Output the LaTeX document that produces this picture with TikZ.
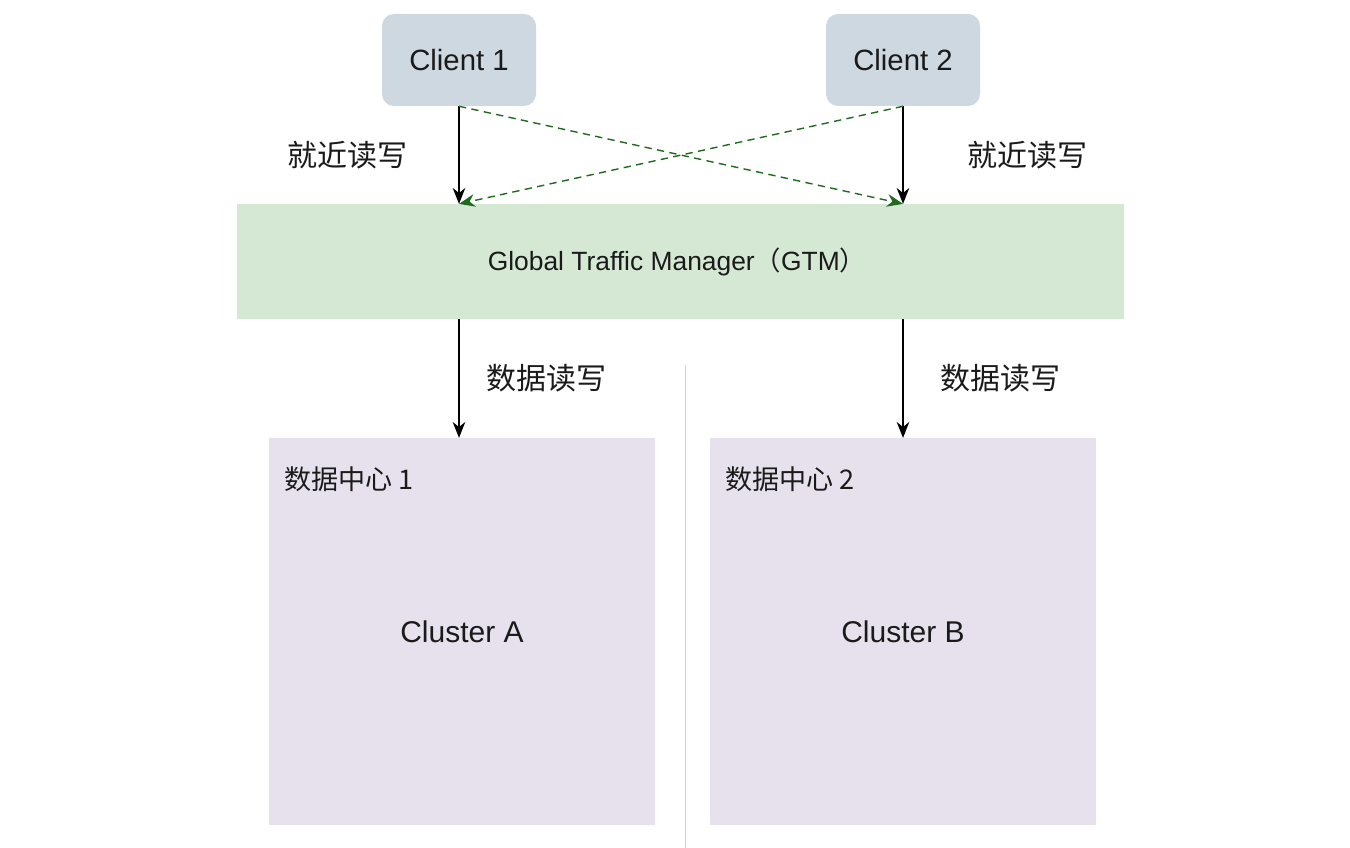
\documentclass[tikz,border=0pt]{standalone}
\usepackage{fontspec}
\setmainfont{Liberation Sans}
\newfontfamily\cjk{Noto Sans CJK SC}
\usetikzlibrary{arrows.meta}
\definecolor{clientfill}{HTML}{CED8E1}
\definecolor{gtmfill}{HTML}{D5E8D4}
\definecolor{dcfill}{HTML}{E6E1EC}
\definecolor{dgreen}{HTML}{1E6B1E}
\definecolor{txt}{HTML}{1A1A1A}
\tikzset{
  client/.style={rectangle, rounded corners=9pt, fill=clientfill, minimum width=115.5pt, minimum height=69pt, inner sep=0pt, font=\fontsize{22}{24}\selectfont, text=txt},
  gtm/.style={rectangle, fill=gtmfill, minimum width=665pt, minimum height=86pt, inner sep=0pt},
  gtmtext/.style={font=\fontsize{19.8}{22}\selectfont, text=txt, inner sep=0pt},
  dc/.style={rectangle, fill=dcfill, minimum width=289.5pt, minimum height=290pt, inner sep=0pt},
  lbl/.style={font=\cjk\fontsize{22.5}{24}\selectfont, text=txt, inner sep=0pt},
  dclbl/.style={font=\cjk\fontsize{20.3}{22}\selectfont, text=txt, inner sep=0pt, anchor=west},
  cl/.style={font=\fontsize{22.5}{24}\selectfont, text=txt, inner sep=0pt},
  solidarrow/.style={draw=black, line width=1.05pt, -{Stealth[length=12pt,width=9.5pt]}},
  greenarrow/.style={draw=dgreen, line width=1.05pt, dash pattern=on 5.5pt off 4pt, -{Stealth[length=12pt,width=9.5pt]}},
}
\begin{document}
\begin{tikzpicture}[x=0.75pt,y=-0.75pt]
\useasboundingbox (0,0) rectangle (1350,848);
% divider
\draw[draw=black!18, line width=0.75pt] (685,365) -- (685,848);
% nodes
\node[client] (c1) at (459,60) {Client 1};
\node[client] (c2) at (903,60) {Client 2};
\node[gtm] (gtm) at (680.5,261.5) {};
\node[gtmtext] (gtml) at (677,262) {Global Traffic Manager{\cjk（}GTM{\cjk）}};
\node[dc] (dc1) at (462,631.5) {};
\node[dc] (dc2) at (903,631.5) {};
\node[dclbl] (dc1l) at (284,479) {数据中心 1};
\node[dclbl] (dc2l) at (725,479) {数据中心 2};
\node[cl] (ca) at (462,632) {Cluster A};
\node[cl] (cb) at (903,632) {Cluster B};
\node[lbl] (l1) at (347,155) {就近读写};
\node[lbl] (l2) at (1027,155) {就近读写};
\node[lbl] (l3) at (546,378) {数据读写};
\node[lbl] (l4) at (1000,378) {数据读写};
% coordinates on edges
\coordinate (c1b) at (c1.south);
\coordinate (c2b) at (c2.south);
\coordinate (g1t) at (c1.south |- gtm.north);
\coordinate (g2t) at (c2.south |- gtm.north);
\coordinate (g1b) at (c1.south |- gtm.south);
\coordinate (g2b) at (c2.south |- gtm.south);
\coordinate (d1t) at (c1.south |- dc1.north);
\coordinate (d2t) at (c2.south |- dc2.north);
% arrows
\draw[solidarrow] (c1b) -- (g1t);
\draw[solidarrow] (c2b) -- (g2t);
\draw[greenarrow] (c1b) -- (g2t);
\draw[greenarrow] (c2b) -- (g1t);
\draw[solidarrow] (g1b) -- (d1t);
\draw[solidarrow] (g2b) -- (d2t);
\end{tikzpicture}
\end{document}
